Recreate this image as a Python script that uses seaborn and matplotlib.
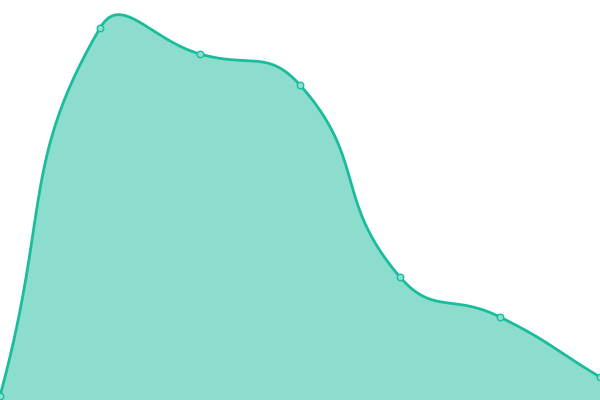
import numpy as np
import pandas as pd
import matplotlib
matplotlib.use("Agg")
import matplotlib.pyplot as plt
import seaborn as sns

categories = ["A", "B", "C", "D", "E", "F", "G"]
values = [4, 372, 346, 315, 123, 83, 23]

LINE = "#1abc9c"
sns.set_theme(style="white")

fig = plt.figure(figsize=(6, 4), dpi=100)
ax = fig.add_axes([0, 0, 1, 1])
x = np.arange(len(categories), dtype=float)
y = np.array(values, dtype=float)
ax.set_xlim(0, len(categories) - 1)
ax.set_ylim(0, 400)
ax.axis("off")

# ECharts-style smoothing (smooth=0.5) computed in display space
fig.canvas.draw()
pts = ax.transData.transform(np.column_stack([x, y]))
smooth = 0.5
n = len(pts)
cps_next = []
cps_prev = []
for i in range(n):
    p = pts[i]
    prev = pts[i - 1] if i > 0 else p
    nxt = pts[i + 1] if i < n - 1 else p
    v = (nxt - prev) * smooth
    lp = np.linalg.norm(p - prev)
    ln = np.linalg.norm(nxt - p)
    s = lp + ln
    rn = ln / s if s > 0 else 0.5
    rp = lp / s if s > 0 else 0.5
    cps_prev.append(p - v * rp)
    cps_next.append(p + v * rn)

curve = []
t = np.linspace(0, 1, 60)[:, None]
for i in range(n - 1):
    p0, p3 = pts[i], pts[i + 1]
    c1, c2 = cps_next[i], cps_prev[i + 1]
    seg = (1 - t) ** 3 * p0 + 3 * (1 - t) ** 2 * t * c1 + 3 * (1 - t) * t ** 2 * c2 + t ** 3 * p3
    curve.append(seg if i == 0 else seg[1:])
curve = np.vstack(curve)
curve_d = ax.transData.inverted().transform(curve)
df = pd.DataFrame({"x": curve_d[:, 0], "y": curve_d[:, 1]})

ax.fill_between(df["x"], df["y"], 0, color=LINE, alpha=0.5, linewidth=0)
sns.lineplot(data=df, x="x", y="y", ax=ax, color=LINE, linewidth=2.0, sort=False, estimator=None)
pdf = pd.DataFrame({"x": x, "y": y})
sns.scatterplot(data=pdf, x="x", y="y", ax=ax, s=22, color="#8ce0cf",
                edgecolor=LINE, linewidth=1.0, zorder=5, clip_on=False)
ax.axis("off")
fig.savefig("out.png", dpi=100)
